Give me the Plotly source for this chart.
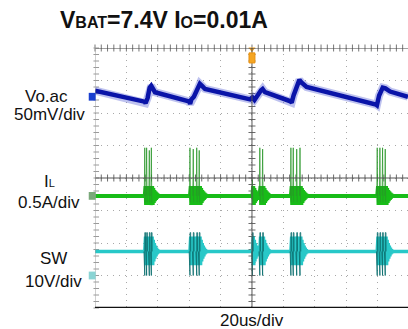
import plotly.graph_objects as go

# ---------------- data (read from the scope capture) ----------------
# time axis in microseconds (20 us/div, trigger at 0)
vo_t = [-100, -68.5, -67.8, -66.5, -65.2, -64.2, -61.8, -40.2, -39.4, -38.6, -37.0,
        -34.5, -33.2, -31.5, -29.9, -1.2, 0.3, 1.6, 3.5, 5.8, 6.8, 8.3, 24.5, 25.3,
        26.5, 28.5, 30.2, 31.5, 34.8, 79.0, 79.6, 81.0, 83.3, 85.0, 88.0, 99.4]
vo_mv = [9.5, -7.5, -10, -2, 14, 17, 7, -7, -11, -4, 0, 12, 20, 16, 12, -4, -1, -5,
         3, 10, 12, 7, -7, -9, 2, 14, 26, 22, 15, -12, -13, 2, 14, 13, 8, 0]

# switching bursts: pulse times (us) and inductor-current peaks (A)
pulse_t = [[-68.3, -67.1, -65.4, -64.1],
           [-39.5, -37.4, -35.2, -33.6],
           [0.3, 5.0, 6.8],
           [24.8, 26.3, 28.5, 30.6],
           [79.8, 81.5, 83.2, 84.9]]
il_peak = [[0.74, 0.74, 0.70, 0.74],
           [0.74, 0.72, 0.74, 0.70],
           [0.25, 0.74, 0.72],
           [0.74, 0.74, 0.72, 0.74],
           [0.74, 0.74, 0.74, 0.72]]
il_idle = 0.0          # A
il_ring = [0.15, -0.14, 0.12, -0.11, 0.09, -0.08, 0.07, -0.06, 0.05, -0.04, 0.03, -0.02, 0.01]
sw_idle = 7.4          # V (VBAT)
sw_high = 13.2         # V
sw_low = 0.0           # V
sw_ring = [4.6, -4.2, 3.6, -3.1, 2.6, -2.2, 1.8, -1.5, 1.2, -0.9, 0.7, -0.5, 0.3, -0.2]

t_start, t_end = -100, 99.4

# ---------------- build waveforms from the data ----------------
RING_DT = 0.35
all_pulses = [(t, p) for bt, bp in zip(pulse_t, il_peak) for t, p in zip(bt, bp)]
all_pulses.sort()

def next_pulse_after(t):
    later = [x for x, _ in all_pulses if x > t]
    return later[0] if later else t_end

il_x, il_y = [t_start], [il_idle]
ils_x, ils_y = [], []
sw_x, sw_y = [t_start], [sw_idle]
sws_x, sws_y = [], []
for t, p in all_pulses:
    nxt = next_pulse_after(t)
    # inductor current spike (thin)
    ils_x += [t - 0.3, t, t + 0.3, None]
    ils_y += [il_idle, p, il_idle - 0.1, None]
    # switch node pulse (thin)
    sws_x += [t - 0.5, t - 0.45, t, t + 0.05, t + 0.45, t + 0.5, None]
    sws_y += [sw_idle, sw_low, sw_low, sw_high, sw_high, sw_idle, None]
    # ringing (main traces)
    il_x.append(t); il_y.append(il_idle)
    sw_x.append(t); sw_y.append(sw_idle)
    for k, (a_i, a_s) in enumerate(zip(il_ring + [0] * 5, sw_ring)):
        tk = t + 0.5 + k * RING_DT
        if tk >= nxt - 0.3:
            break
        il_x.append(tk); il_y.append(il_idle + a_i)
        sw_x.append(tk); sw_y.append(sw_idle + a_s)
    tk = min(t + 0.5 + len(sw_ring) * RING_DT, nxt - 0.3)
    il_x.append(tk); il_y.append(il_idle)
    sw_x.append(tk); sw_y.append(sw_idle)
il_x.append(t_end); il_y.append(il_idle)
sw_x.append(t_end); sw_y.append(sw_idle)

# ---------------- figure ----------------
BLUE = "#0a14a8"
GREEN = "#18bc18"
CYAN = "#28c8c8"

fig = go.Figure()

# Vo.ac (50 mV/div)
fig.add_trace(go.Scatter(x=vo_t, y=vo_mv, yaxis="y2", mode="lines",
                         line=dict(color="rgba(70,80,210,0.35)", width=8), hoverinfo="skip"))
fig.add_trace(go.Scatter(x=vo_t, y=vo_mv, yaxis="y2", mode="lines",
                         line=dict(color=BLUE, width=4.5), hoverinfo="skip"))
# IL (0.5 A/div)
fig.add_trace(go.Scatter(x=il_x, y=il_y, yaxis="y3", mode="lines",
                         line=dict(color=GREEN, width=4), hoverinfo="skip"))
fig.add_trace(go.Scatter(x=ils_x, y=ils_y, yaxis="y3", mode="lines",
                         line=dict(color="rgba(40,150,40,0.75)", width=1), hoverinfo="skip"))
# SW (10 V/div)
fig.add_trace(go.Scatter(x=sw_x, y=sw_y, yaxis="y4", mode="lines",
                         line=dict(color=CYAN, width=3.5), hoverinfo="skip"))
fig.add_trace(go.Scatter(x=sws_x, y=sws_y, yaxis="y4", mode="lines",
                         line=dict(color="rgba(10,110,110,0.85)", width=1), hoverinfo="skip"))

# graticule minor ticks
tick_t = [t_start + 4 * i for i in range(51)]
tick_d = [-4 + 0.2 * i for i in range(41)]
tick_style = dict(symbol="line-ns", size=5, line=dict(color="#6a6a6a", width=1))
fig.add_trace(go.Scatter(x=tick_t, y=[0] * len(tick_t), mode="markers",
                         marker=tick_style, hoverinfo="skip"))
fig.add_trace(go.Scatter(x=tick_t, y=[4] * len(tick_t), mode="markers",
                         marker=dict(symbol="line-ns", size=5, line=dict(color="#777", width=1)),
                         hoverinfo="skip", cliponaxis=False))
fig.add_trace(go.Scatter(x=[0] * len(tick_d), y=tick_d, mode="markers",
                         marker=dict(symbol="line-ew", size=5, line=dict(color="#6a6a6a", width=1)),
                         hoverinfo="skip"))
fig.add_trace(go.Scatter(x=[t_start + 0.8] * len(tick_d), y=tick_d, mode="markers",
                         marker=dict(symbol="line-ew", size=4, line=dict(color="#9a9a9a", width=1)),
                         hoverinfo="skip", cliponaxis=False))
# trigger marker
fig.add_trace(go.Scatter(x=[0], y=[3.97], mode="markers",
                         marker=dict(symbol="triangle-down", size=6, color="#f0a020"),
                         hoverinfo="skip", cliponaxis=False))

grid = dict(showgrid=True, gridcolor="#a8a8a8", gridwidth=1, griddash="1px,5px",
            zeroline=False, showticklabels=False, ticks="", showline=False, fixedrange=True)
fig.update_layout(
    width=408, height=329,
    margin=dict(l=95, r=0, t=48, b=21),
    paper_bgcolor="white", plot_bgcolor="white",
    showlegend=False,
    xaxis=dict(range=[t_start, t_end], dtick=20, tick0=0, **grid),
    yaxis=dict(range=[-4, 4], dtick=1, tick0=0, **grid),
    yaxis2=dict(range=[(-4 - 2.5) * 50, (4 - 2.5) * 50], overlaying="y", visible=False),
    yaxis3=dict(range=[(-4 + 0.55) * 0.5, (4 + 0.55) * 0.5], overlaying="y", visible=False),
    yaxis4=dict(range=[(-4 + 3.0) * 10, (4 + 3.0) * 10], overlaying="y", visible=False),
    font=dict(family="Liberation Sans, Arial, sans-serif", color="#111"),
)

shapes = [
    dict(type="line", xref="x", yref="y", x0=0, x1=0, y0=-4, y1=4, line=dict(color="#555", width=1)),
    dict(type="line", xref="x", yref="y", x0=t_start, x1=t_end, y0=0, y1=0, line=dict(color="#555", width=1)),
    dict(type="line", xref="x", yref="y", x0=t_start, x1=t_end, y0=4, y1=4, line=dict(color="#444", width=1)),
    dict(type="line", xref="x", yref="y", x0=t_start, x1=t_start, y0=-4, y1=4, line=dict(color="#a0a0a0", width=1)),
    dict(type="line", xref="x", yref="y", x0=t_start, x1=t_end, y0=-4, y1=-4, line=dict(color="#111", width=2.5)),
    # trigger tab
    dict(type="rect", xref="x", yref="y", x0=-1.9, x1=1.9, y0=3.54, y1=3.85,
         fillcolor="#f5a623", line=dict(color="#e89010", width=1)),
    # channel ground markers
    dict(type="rect", xref="paper", yref="y", x0=-0.02, x1=0.002, y0=2.38, y1=2.62,
         fillcolor="#1a40d0", line=dict(width=0)),
    dict(type="rect", xref="paper", yref="y", x0=-0.02, x1=0.002, y0=-0.67, y1=-0.43,
         fillcolor="#7aa87a", line=dict(width=0)),
    dict(type="rect", xref="paper", yref="y", x0=-0.02, x1=0.002, y0=-3.12, y1=-2.88,
         fillcolor="#8ad4d4", line=dict(width=0)),
]
fig.update_layout(shapes=shapes)

W, L, PW = 408, 95, 313
T, PH = 48, 260

def px(xp):
    return (xp - L) / PW

def py(yp):
    return (T + PH - yp) / PH

labels = [
    ("Vo.ac", 46, 96),
    ("50mV/div", 49.5, 114),
    ("I<span style='font-size:11px'>L</span>", 49, 181),
    ("0.5A/div", 49, 202),
    ("SW", 53, 258),
    ("10V/div", 53, 281),
    ("20us/div", 252, 320),
]
ann = [dict(text=t, x=px(x), y=py(y), xref="paper", yref="paper", xanchor="center",
            yanchor="middle", showarrow=False, font=dict(size=17, color="#111"))
       for t, x, y in labels]
ann.append(dict(text="<b>V<span style='font-size:16px'>BAT</span>=7.4V I<span style='font-size:16px'>O</span>=0.01A</b>",
                x=px(58), y=py(20), xref="paper", yref="paper", xanchor="left", yanchor="middle",
                showarrow=False, font=dict(size=23, color="#111")))
fig.update_layout(annotations=ann)

fig.write_html("out.html")
